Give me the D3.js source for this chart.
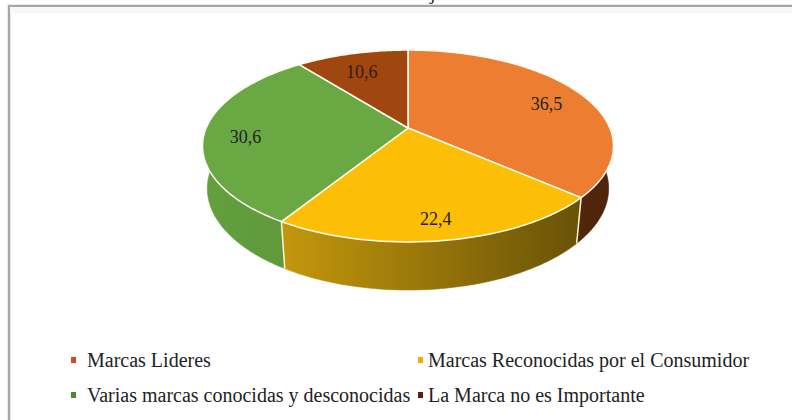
<!DOCTYPE html>
<html>
<head>
<meta charset="utf-8">
<script src="https://cdn.jsdelivr.net/npm/d3@7"></script>
<style>
  body { margin: 0; background: #fff; }
  svg { display: block; font-family: 'Liberation Serif', 'Times New Roman', serif; }
</style>
</head>
<body>
<div id="chart"></div>
<script>
const categories = ['Marcas Lideres', 'Marcas Reconocidas por el Consumidor', 'Varias marcas conocidas y desconocidas', 'La Marca no es Importante'];
const values = [36.5, 22.4, 30.6, 10.6];
const valueLabels = ['36,5', '22,4', '30,6', '10,6'];
const topColors = ['#ED7D31', '#FDBF06', '#6AA843', '#A0460F'];
const sideColors = [['#7A3A12', '#4E240A'], ['#DCAA0E', '#5E4A06'], ['#64A03E', '#4C7E2F'], ['#7A3410', '#5A260A']];
const legendColors = ['#D2482A', '#F2A916', '#4E8A2E', '#5E220C'];

const width = 792;
const height = 420;

// perspective view of the pie
const view = { cx: 408, cy: 128, f: 956, dist: 4.737, tilt: 27.3 * Math.PI / 180, thick: 0.2386 };
const sinT = Math.sin(view.tilt);
const cosT = Math.cos(view.tilt);

const project = (theta, r, level) => {
  const X = r * Math.sin(theta);
  const Z = r * Math.cos(theta);
  const y = view.thick * level;
  const d = view.dist + Z * cosT + y * sinT;
  const up = Z * sinT - y * cosT;
  return [view.cx + (view.f * X) / d, view.cy - (view.f * up) / d];
};

const arcPoints = (a0, a1, level) => {
  const n = Math.max(2, Math.ceil(Math.abs(a1 - a0) / (Math.PI / 180)) + 1);
  return d3.range(n).map((i) => project(a0 + ((a1 - a0) * i) / (n - 1), 1, level));
};

const line = d3.line();

const svg = d3.select('#chart').append('svg').attr('width', width).attr('height', height);

const defs = svg.append('defs');
sideColors.forEach((c, i) => {
  const g = defs
    .append('linearGradient')
    .attr('id', 'side' + i)
    .attr('gradientUnits', 'userSpaceOnUse')
    .attr('x1', 200)
    .attr('x2', 615)
    .attr('y1', 0)
    .attr('y2', 0);
  g.append('stop').attr('offset', '0%').attr('stop-color', c[0]);
  g.append('stop').attr('offset', '100%').attr('stop-color', c[1]);
});

// chart frame (cut off at right and bottom)
svg
  .append('path')
  .attr('d', 'M9,' + (height + 5) + 'V6H' + (width + 5))
  .attr('fill', 'none')
  .attr('stroke', '#A6A6A6')
  .attr('stroke-width', 2.5);
svg.append('rect').attr('x', 10).attr('y', 7).attr('width', width).attr('height', 6).attr('fill', '#F7F7F7');

// cut-off caption above the frame
svg
  .append('text')
  .attr('x', 430)
  .attr('y', -1)
  .attr('font-size', 20)
  .attr('fill', '#222')
  .text('j');

const arcs = d3.pie().sort(null).value((d) => d)(values);

// sides (front half only)
const g = svg.append('g');
arcs.forEach((a, i) => {
  const a0 = Math.max(a.startAngle, Math.PI / 2);
  const a1 = Math.min(a.endAngle, (3 * Math.PI) / 2);
  if (a0 >= a1) return;
  const pts = arcPoints(a0, a1, 0).concat(arcPoints(a1, a0, 1));
  g.append('path')
    .attr('d', line(pts) + 'Z')
    .attr('fill', 'url(#side' + i + ')')
    .attr('stroke', 'url(#side' + i + ')')
    .attr('stroke-width', 0.6);
});

// slice walls between front sides
arcs.forEach((a) => {
  if (a.startAngle > Math.PI / 2 && a.startAngle < (3 * Math.PI) / 2) {
    g.append('path')
      .attr('d', line([project(a.startAngle, 1, 0), project(a.startAngle, 1, 1)]))
      .attr('stroke', '#FFF6D8')
      .attr('stroke-width', 1.5);
  }
});

// top faces
arcs.forEach((a, i) => {
  const pts = [project(0, 0, 0)].concat(arcPoints(a.startAngle, a.endAngle, 0));
  g.append('path')
    .attr('d', line(pts) + 'Z')
    .attr('fill', topColors[i])
    .attr('stroke', '#FFFDF2')
    .attr('stroke-width', 1.5)
    .attr('stroke-linejoin', 'round');
});

// data labels
arcs.forEach((a, i) => {
  const mid = (a.startAngle + a.endAngle) / 2;
  const p = project(mid, 0.8, 0);
  g.append('text')
    .attr('x', p[0])
    .attr('y', p[1] + 5)
    .attr('text-anchor', 'middle')
    .attr('dominant-baseline', 'central')
    .attr('font-size', 18)
    .attr('fill', i === 3 ? '#3A1A08' : '#222')
    .text(valueLabels[i]);
});

// legend
const legendX = [71, 418];
const legendY = [360, 395];
const legend = svg.append('g');
categories.forEach((name, i) => {
  const x = legendX[i % 2];
  const y = legendY[Math.floor(i / 2)];
  legend.append('rect').attr('x', x).attr('y', y - 3).attr('width', 5).attr('height', 6).attr('fill', legendColors[i]);
  legend
    .append('text')
    .attr('x', x + (i % 2 === 0 ? 16 : 10))
    .attr('y', y + 7)
    .attr('font-size', 20)
    .attr('fill', '#222')
    .text(name);
});
</script>
</body>
</html>
